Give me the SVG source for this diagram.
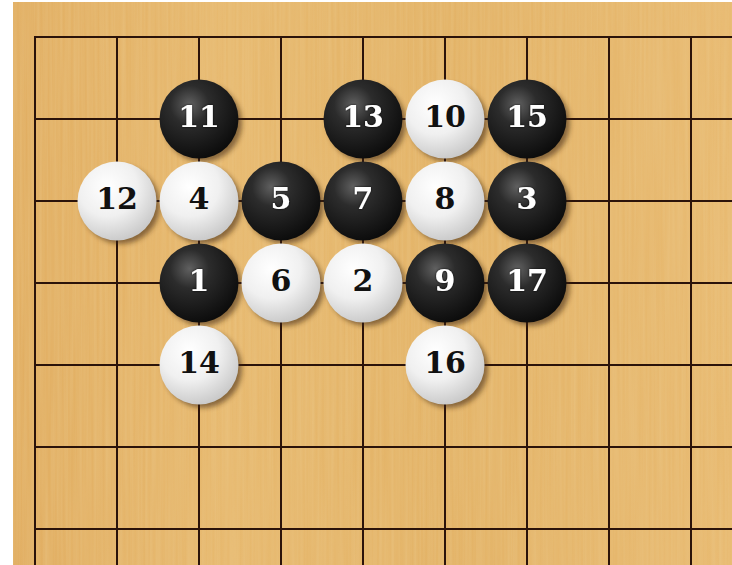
<svg xmlns="http://www.w3.org/2000/svg" width="732" height="565" viewBox="0 0 732 565">
<defs>
<linearGradient id="wood" x1="0" y1="0" x2="1" y2="0">
<stop offset="0" stop-color="#e1ae62"/>
<stop offset="0.3" stop-color="#e7b96f"/>
<stop offset="0.6" stop-color="#e3b367"/>
<stop offset="1" stop-color="#e8ba71"/>
</linearGradient>
<filter id="grain" x="0" y="0" width="100%" height="100%">
<feTurbulence type="fractalNoise" baseFrequency="0.35 0.006" numOctaves="2" seed="3" result="n"/>
<feColorMatrix in="n" type="matrix" values="0 0 0 0 0.85  0 0 0 0 0.62  0 0 0 0 0.3  0 0 0 0.5 -0.12" result="c"/>
<feComposite in="c" in2="SourceGraphic" operator="in"/>
</filter>
<radialGradient id="blk" cx="0.38" cy="0.32" r="0.7">
<stop offset="0" stop-color="#606060"/>
<stop offset="0.35" stop-color="#2c2c2c"/>
<stop offset="1" stop-color="#0c0c0c"/>
</radialGradient>
<radialGradient id="wht" cx="0.38" cy="0.32" r="0.75">
<stop offset="0" stop-color="#ffffff"/>
<stop offset="0.5" stop-color="#f0f0f0"/>
<stop offset="1" stop-color="#c4c4c4"/>
</radialGradient>
<filter id="shadow" x="-30%" y="-30%" width="160%" height="160%">
<feGaussianBlur stdDeviation="2.5"/>
</filter>
<filter id="glow" x="-20%" y="-20%" width="140%" height="140%">
<feGaussianBlur in="SourceAlpha" stdDeviation="1.2" result="b"/>
<feFlood flood-color="#000" flood-opacity="0.9"/>
<feComposite in2="b" operator="in" result="s"/>
<feMerge><feMergeNode in="s"/><feMergeNode in="SourceGraphic"/></feMerge>
</filter>
</defs>
<style>
.grid line{stroke:#2b130a;stroke-width:2}
.sh{fill:#3a2410;opacity:0.55;filter:url(#shadow)}
.b .st{fill:url(#blk)}
.w .st{fill:url(#wht)}
text{font-family:"DejaVu Serif","Liberation Serif",serif;font-weight:bold;font-size:30px;text-anchor:middle}
.b text{fill:#fff;filter:url(#glow)}
.w text{fill:#111}
</style>
<rect x="0" y="0" width="732" height="565" fill="#ffffff"/>
<rect id="board" x="13" y="2" width="719" height="563" fill="url(#wood)"/>
<rect x="13" y="2" width="719" height="563" fill="#e6b66c" filter="url(#grain)"/>
<g id="connectors" class="grid">
<line x1="35" y1="37" x2="35" y2="565"/>
<line x1="117" y1="37" x2="117" y2="565"/>
<line x1="199" y1="37" x2="199" y2="565"/>
<line x1="281" y1="37" x2="281" y2="565"/>
<line x1="363" y1="37" x2="363" y2="565"/>
<line x1="445" y1="37" x2="445" y2="565"/>
<line x1="527" y1="37" x2="527" y2="565"/>
<line x1="609" y1="37" x2="609" y2="565"/>
<line x1="691" y1="37" x2="691" y2="565"/>
<line x1="34" y1="37" x2="732" y2="37"/>
<line x1="34" y1="119" x2="732" y2="119"/>
<line x1="34" y1="201" x2="732" y2="201"/>
<line x1="34" y1="283" x2="732" y2="283"/>
<line x1="34" y1="365" x2="732" y2="365"/>
<line x1="34" y1="447" x2="732" y2="447"/>
<line x1="34" y1="529" x2="732" y2="529"/>
</g>
<g id="shadows">
<circle class="sh" cx="203" cy="123" r="39"/>
<circle class="sh" cx="367" cy="123" r="39"/>
<circle class="sh" cx="449" cy="123" r="39"/>
<circle class="sh" cx="531" cy="123" r="39"/>
<circle class="sh" cx="121" cy="205" r="39"/>
<circle class="sh" cx="203" cy="205" r="39"/>
<circle class="sh" cx="285" cy="205" r="39"/>
<circle class="sh" cx="367" cy="205" r="39"/>
<circle class="sh" cx="449" cy="205" r="39"/>
<circle class="sh" cx="531" cy="205" r="39"/>
<circle class="sh" cx="203" cy="287" r="39"/>
<circle class="sh" cx="285" cy="287" r="39"/>
<circle class="sh" cx="367" cy="287" r="39"/>
<circle class="sh" cx="449" cy="287" r="39"/>
<circle class="sh" cx="531" cy="287" r="39"/>
<circle class="sh" cx="203" cy="369" r="39"/>
<circle class="sh" cx="449" cy="369" r="39"/>
</g>
<g id="stone-1" class="b"><circle class="st" cx="199" cy="283" r="39.5"/><text x="199" y="291">1</text></g>
<g id="stone-2" class="w"><circle class="st" cx="363" cy="283" r="39.5"/><text x="363" y="291">2</text></g>
<g id="stone-3" class="b"><circle class="st" cx="527" cy="201" r="39.5"/><text x="527" y="209">3</text></g>
<g id="stone-4" class="w"><circle class="st" cx="199" cy="201" r="39.5"/><text x="199" y="209">4</text></g>
<g id="stone-5" class="b"><circle class="st" cx="281" cy="201" r="39.5"/><text x="281" y="209">5</text></g>
<g id="stone-6" class="w"><circle class="st" cx="281" cy="283" r="39.5"/><text x="281" y="291">6</text></g>
<g id="stone-7" class="b"><circle class="st" cx="363" cy="201" r="39.5"/><text x="363" y="209">7</text></g>
<g id="stone-8" class="w"><circle class="st" cx="445" cy="201" r="39.5"/><text x="445" y="209">8</text></g>
<g id="stone-9" class="b"><circle class="st" cx="445" cy="283" r="39.5"/><text x="445" y="291">9</text></g>
<g id="stone-10" class="w"><circle class="st" cx="445" cy="119" r="39.5"/><text x="445" y="127">10</text></g>
<g id="stone-11" class="b"><circle class="st" cx="199" cy="119" r="39.5"/><text x="199" y="127">11</text></g>
<g id="stone-12" class="w"><circle class="st" cx="117" cy="201" r="39.5"/><text x="117" y="209">12</text></g>
<g id="stone-13" class="b"><circle class="st" cx="363" cy="119" r="39.5"/><text x="363" y="127">13</text></g>
<g id="stone-14" class="w"><circle class="st" cx="199" cy="365" r="39.5"/><text x="199" y="373">14</text></g>
<g id="stone-15" class="b"><circle class="st" cx="527" cy="119" r="39.5"/><text x="527" y="127">15</text></g>
<g id="stone-16" class="w"><circle class="st" cx="445" cy="365" r="39.5"/><text x="445" y="373">16</text></g>
<g id="stone-17" class="b"><circle class="st" cx="527" cy="283" r="39.5"/><text x="527" y="291">17</text></g>
</svg>
